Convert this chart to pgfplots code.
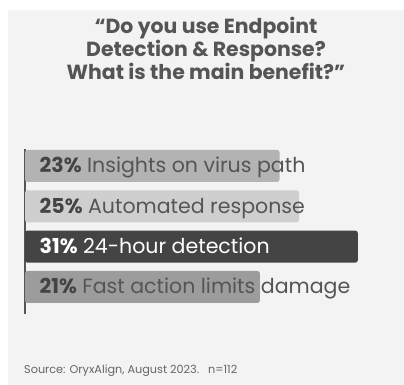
\documentclass[border=0pt]{standalone}
\usepackage{pgfplots}
\pgfplotsset{compat=1.18}
\usepackage{fontspec}
\setmainfont{Poppins}
\definecolor{bg}{HTML}{F3F3F3}
\definecolor{cA}{HTML}{B3B3B3}
\definecolor{cB}{HTML}{CFCFCF}
\definecolor{cC}{HTML}{444444}
\definecolor{cD}{HTML}{9C9C9C}
\definecolor{axgray}{HTML}{555555}
\definecolor{txt}{HTML}{555555}
\definecolor{txtb}{HTML}{444444}
\definecolor{foot}{HTML}{666666}
\begin{document}
\begin{tikzpicture}[x=1bp,y=1bp]
\useasboundingbox (0,0) rectangle (404,385);
\fill[white] (0,0) rectangle (404,385);
\fill[bg] (8,0) rectangle (404,375);
\begin{scope}[every node/.style={anchor=base, inner sep=0pt, text=txt, font=\bfseries\fontsize{20.5}{23}\selectfont}]
\node at (206,352) {“Do you use Endpoint};
\node at (206,329) {Detection \& Response?};
\node at (206,306) {What is the main benefit?”};
\end{scope}
\begin{axis}[
  at={(25bp,71bp)}, anchor=south west,
  scale only axis, width=372bp, height=165bp,
  x coord trafo/.code={\pgfmathparse{#1+3}},
  x coord inv trafo/.code={\pgfmathparse{#1-3}},
  xmin=-3, xmax=35, ymin=0.33, ymax=4.42,
  axis x line=none, axis y line*=left,
  y axis line style={line width=2.6bp, color=axgray, -},
  xtick=\empty, ytick=\empty,
  clip=false,
  every axis plot/.append style={xbar, bar width=32bp, bar shift=0pt, draw=none, rounded corners=2.5bp},
]
\addplot[fill=cA] coordinates {(23,4)};
\addplot[fill=cB] coordinates {(25,3)};
\addplot[fill=cC] coordinates {(31,2)};
\addplot[fill=cD] coordinates {(21,1)};
\begin{scope}[every node/.style={anchor=base west, inner sep=0pt, xshift=14.5bp, yshift=-6.8bp, font=\fontsize{20.6}{22}\selectfont, text=txt}]
\node at (axis cs:-3,4) {\textcolor{txtb}{\bfseries 23\%} Insights on virus path};
\node at (axis cs:-3,3) {\textcolor{txtb}{\bfseries 25\%} Automated response};
\node[text=white] at (axis cs:-3,2) {{\bfseries 31\%} 24-hour detection};
\node at (axis cs:-3,1) {\textcolor{txtb}{\bfseries 21\%} Fast action limits damage};
\end{scope}
\end{axis}
\node[anchor=base west, inner sep=0pt, font=\fontsize{11.3}{13}\selectfont, text=foot] at (24,12) {Source: OryxAlign, August 2023.\ \ \ n=112};
\end{tikzpicture}
\end{document}
